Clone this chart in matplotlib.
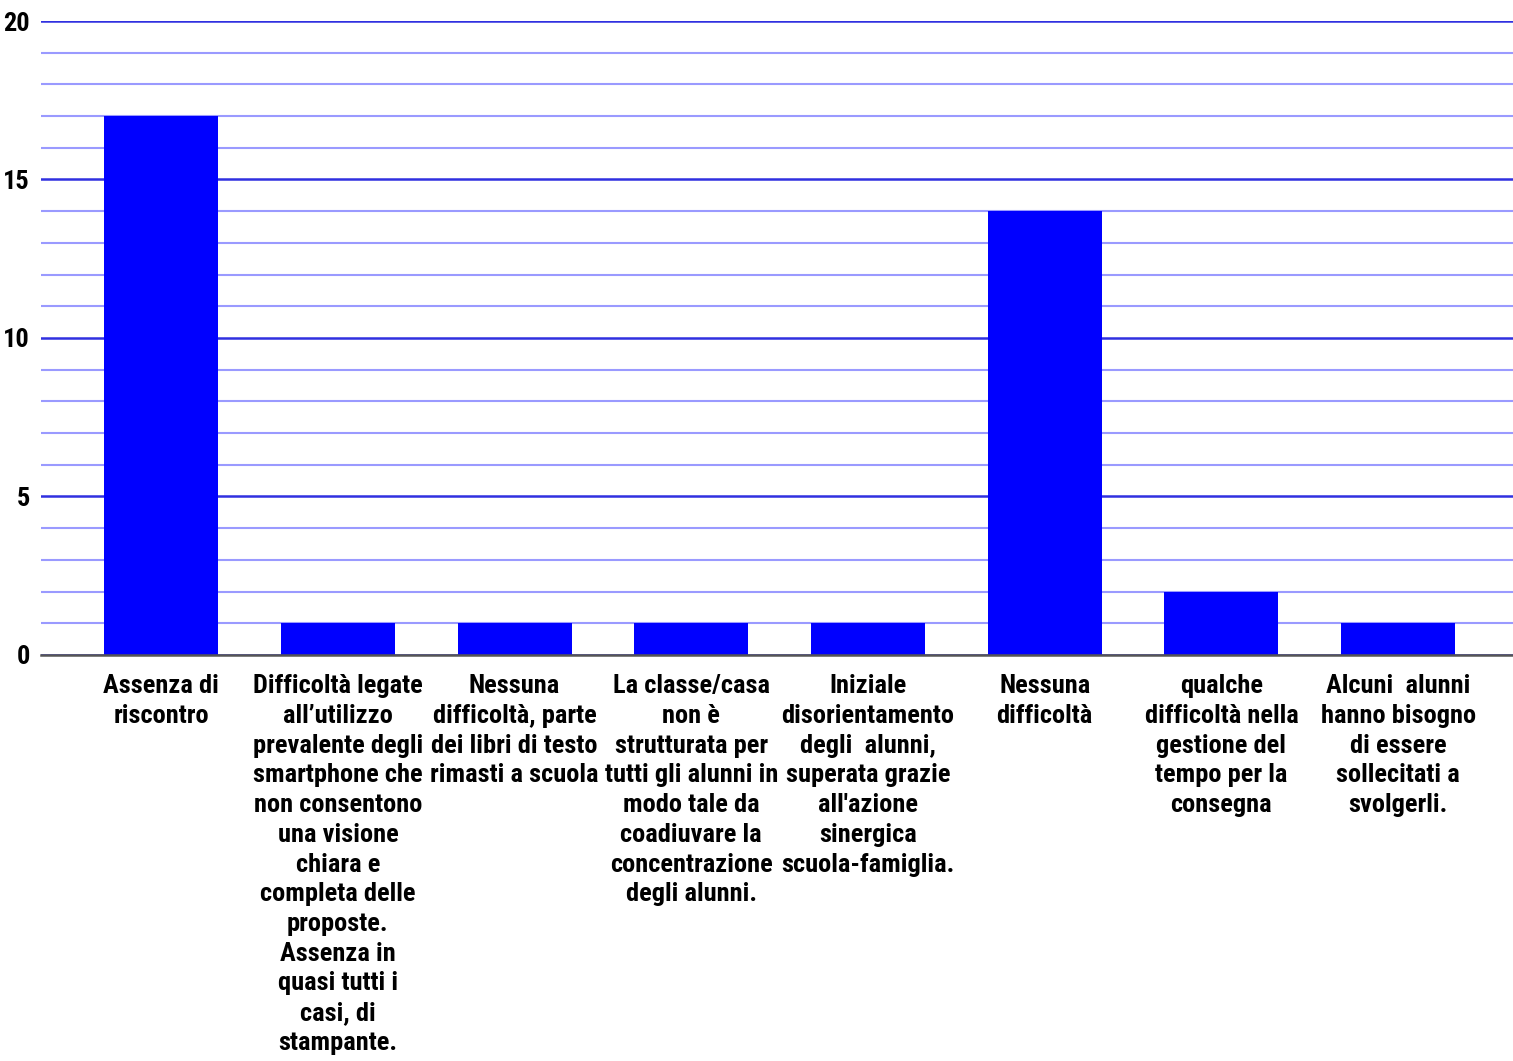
import matplotlib
matplotlib.use("Agg")
import matplotlib.pyplot as plt
from matplotlib import font_manager
from matplotlib.ticker import MultipleLocator

# Cerca un font condensato in grassetto (Roboto Condensed se c'è)
fl = font_manager.fontManager.ttflist
cands = []
for f in fl:
    bold = f.weight in ("bold", 700, "heavy") or (isinstance(f.weight, int) and f.weight >= 600)
    cond = ("Narrow" in f.name or "Condensed" in f.name or
            f.stretch in ("condensed", "semi-condensed", "extra-condensed",
                          "ultra-condensed") or
            (isinstance(f.stretch, int) and f.stretch < 500))
    if bold and cond and f.style == "normal":
        cands.append(f)
pref = ["Liberation Sans Narrow", "Arial Narrow", "Roboto Condensed", "DejaVu Sans"]
cands.sort(key=lambda f: (pref.index(f.name) if f.name in pref else 99,
                          abs((f.weight if isinstance(f.weight, int) else 700) - 700)))
fname = cands[0].fname if cands else None

# Dati
labels = [
    "Assenza di\nriscontro",
    "Difficoltà legate\nall’utilizzo\nprevalente degli\nsmartphone che\nnon consentono\nuna visione\nchiara e\ncompleta delle\nproposte.\nAssenza in\nquasi tutti i\ncasi, di\nstampante.",
    "Nessuna\ndifficoltà, parte\ndei libri di testo\nrimasti a scuola",
    "La classe/casa\nnon è\nstrutturata per\ntutti gli alunni in\nmodo tale da\ncoadiuvare la\nconcentrazione\ndegli alunni.",
    "Iniziale\ndisorientamento\ndegli  alunni,\nsuperata grazie\nall'azione\nsinergica\nscuola-famiglia.",
    "Nessuna\ndifficoltà",
    "qualche\ndifficoltà nella\ngestione del\ntempo per la\nconsegna",
    "Alcuni  alunni\nhanno bisogno\ndi essere\nsollecitati a\nsvolgerli.",
]
values = [17, 1, 1, 1, 1, 14, 2, 1]

if fname:
    fp = font_manager.FontProperties(fname=fname, size=19)
else:
    fp = font_manager.FontProperties(family="Liberation Sans", weight="bold", size=16)

fig = plt.figure(figsize=(15.13, 10.61), dpi=100)
ax = fig.add_axes([0.0271, 0.3827, 0.9729, 0.5975])

x = list(range(len(values)))
ax.bar(x, values, width=0.645, color="#0000ff", zorder=3)

ax.set_xlim(-0.68, 7.65)
ax.set_ylim(0, 20)
ax.yaxis.set_major_locator(MultipleLocator(5))
ax.yaxis.set_minor_locator(MultipleLocator(1))
ax.grid(axis="y", which="minor", color="#9a9aff", linewidth=1.5, zorder=1)
ax.grid(axis="y", which="major", color="#3030e0", linewidth=1.8, zorder=2)

for s in ["top", "right", "left"]:
    ax.spines[s].set_visible(False)
ax.spines["bottom"].set_color("#555555")
ax.spines["bottom"].set_linewidth(1.8)
ax.spines["bottom"].set_zorder(4)

ax.tick_params(axis="both", which="both", length=0)
ax.tick_params(axis="y", pad=8)
ax.tick_params(axis="x", pad=14)
for t in ax.get_yticklabels():
    t.set_fontproperties(fp)

ax.set_xticks(x)
ax.set_xticklabels(labels, fontproperties=fp, linespacing=1.3,
                   va="top", ha="center")

fig.savefig("out.png", dpi=100)
